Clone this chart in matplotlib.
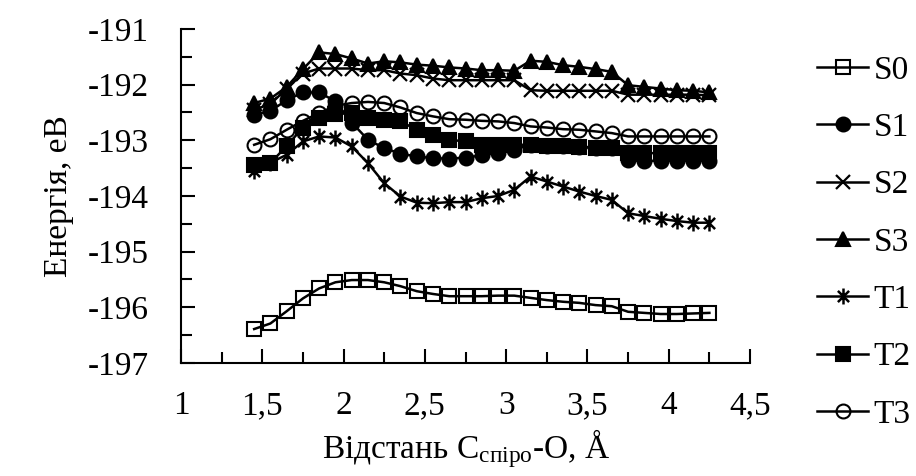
import matplotlib
matplotlib.use('Agg')
import matplotlib.pyplot as plt
from matplotlib.path import Path
from matplotlib.ticker import MultipleLocator, FuncFormatter

plt.rcParams['font.family'] = ['Liberation Serif', 'DejaVu Serif']
plt.rcParams['mathtext.fontset'] = 'custom'
plt.rcParams['mathtext.rm'] = 'Liberation Serif'
plt.rcParams['mathtext.it'] = 'Liberation Serif:italic'

# distance C(spiro)-O, Angstrom
dist = [1.45, 1.55, 1.65, 1.75, 1.85, 1.95, 2.05, 2.15, 2.25, 2.35,
        2.45, 2.55, 2.65, 2.75, 2.85, 2.95, 3.05, 3.15, 3.25, 3.35,
        3.45, 3.55, 3.65, 3.75, 3.85, 3.95, 4.05, 4.15, 4.25]

s0 = [-196.39, -196.29, -196.07, -195.84, -195.66, -195.55, -195.51, -195.51, -195.55, -195.62,
      -195.71, -195.76, -195.80, -195.80, -195.80, -195.79, -195.79, -195.83, -195.87, -195.90,
      -195.92, -195.96, -195.98, -196.08, -196.10, -196.12, -196.12, -196.11, -196.10]
s1 = [-192.54, -192.47, -192.28, -192.14, -192.14, -192.30, -192.68, -192.99, -193.14, -193.24,
      -193.29, -193.32, -193.33, -193.31, -193.27, -193.22, -193.17, -193.08, -193.10, -193.11,
      -193.12, -193.13, -193.14, -193.36, -193.37, -193.37, -193.37, -193.37, -193.37]
s2 = [-192.45, -192.35, -192.07, -191.80, -191.71, -191.71, -191.71, -191.74, -191.74, -191.80,
      -191.83, -191.89, -191.92, -191.92, -191.92, -191.92, -191.92, -192.10, -192.11, -192.11,
      -192.11, -192.11, -192.11, -192.18, -192.18, -192.18, -192.18, -192.18, -192.19]
s3 = [-192.33, -192.25, -192.04, -191.72, -191.42, -191.45, -191.53, -191.62, -191.58, -191.60,
      -191.64, -191.66, -191.69, -191.71, -191.74, -191.74, -191.75, -191.57, -191.59, -191.65,
      -191.68, -191.72, -191.77, -192.01, -192.04, -192.07, -192.10, -192.11, -192.14]
t1 = [-193.55, -193.40, -193.26, -193.02, -192.93, -192.95, -193.11, -193.41, -193.77, -194.01,
      -194.12, -194.13, -194.11, -194.11, -194.04, -194.00, -193.89, -193.65, -193.74, -193.83,
      -193.92, -194.00, -194.07, -194.31, -194.36, -194.41, -194.45, -194.48, -194.48]
t2 = [-193.44, -193.41, -193.10, -192.77, -192.59, -192.53, -192.51, -192.60, -192.63, -192.66,
      -192.81, -192.90, -192.99, -193.02, -193.08, -193.08, -193.08, -193.08, -193.11, -193.11,
      -193.12, -193.13, -193.14, -193.23, -193.23, -193.23, -193.23, -193.23, -193.23]
t3 = [-193.08, -192.98, -192.81, -192.65, -192.51, -192.38, -192.33, -192.31, -192.33, -192.41,
      -192.51, -192.57, -192.62, -192.63, -192.65, -192.66, -192.69, -192.75, -192.77, -192.80,
      -192.81, -192.84, -192.87, -192.93, -192.93, -192.93, -192.93, -192.93, -192.93]

labels = ['S0', 'S1', 'S2', 'S3', 'T1', 'T2', 'T3']

# Excel-like asterisk: an x with a vertical bar
star = Path([(0, -1), (0, 1), (-0.7, -0.7), (0.7, 0.7), (-0.7, 0.7), (0.7, -0.7)],
            [Path.MOVETO, Path.LINETO, Path.MOVETO, Path.LINETO, Path.MOVETO, Path.LINETO])

styles = [
    dict(marker='s', mfc='none', ms=9.5, mew=1.5),
    dict(marker='o', mfc='black', ms=10, mew=1.5),
    dict(marker='x', mfc='none', ms=10, mew=1.6),
    dict(marker='^', mfc='black', ms=9.5, mew=1.5),
    dict(marker=star, mfc='none', ms=11.5, mew=1.8),
    dict(marker='s', mfc='black', ms=9.5, mew=1.5),
    dict(marker='o', mfc='none', ms=10, mew=1.5),
]

fs = 24

fig = plt.figure(figsize=(9.16, 4.76), dpi=100)
ax = fig.add_axes([0.1976, 0.2374, 0.8188 - 0.1976, 0.9391 - 0.2374])

for ys, lab, st in zip([s0, s1, s2, s3, t1, t2, t3], labels, styles):
    ax.plot(dist, ys, color='black', lw=1.8, mec='black', label=lab, **st)

ax.set_xlim(1, 4.5)
ax.set_ylim(-197, -191)
ax.xaxis.set_major_locator(MultipleLocator(0.5))
ax.xaxis.set_minor_locator(MultipleLocator(0.25))
ax.yaxis.set_major_locator(MultipleLocator(1))
ax.yaxis.set_minor_locator(MultipleLocator(0.5))
ax.xaxis.set_major_formatter(FuncFormatter(lambda v, p: f'{v:g}'.replace('.', ',')))
ax.yaxis.set_major_formatter(FuncFormatter(lambda v, p: f'{v:g}'.replace('\u2212', '-')))
ax.tick_params(which='both', direction='in', width=1.5, labelsize=fs, color='black')
ax.tick_params(which='major', length=10)
ax.tick_params(which='minor', length=8)
ax.tick_params(axis='x', pad=20)
ax.tick_params(axis='y', pad=23)
for s in ['top', 'right']:
    ax.spines[s].set_visible(False)
for s in ['left', 'bottom']:
    ax.spines[s].set_linewidth(1.5)

ax.set_xlabel('Відстань C$_{\\mathrm{спіро}}$-O, Å', fontsize=fs, labelpad=4)
ax.set_ylabel('Енергія, еВ', fontsize=fs, labelpad=10)

fig.legend(loc='upper left', bbox_to_anchor=(0.8777, 0.912), frameon=False, fontsize=fs,
           handlelength=1.53, handletextpad=0.15, labelspacing=0.805, borderaxespad=0)

fig.savefig('out.png', dpi=100)
